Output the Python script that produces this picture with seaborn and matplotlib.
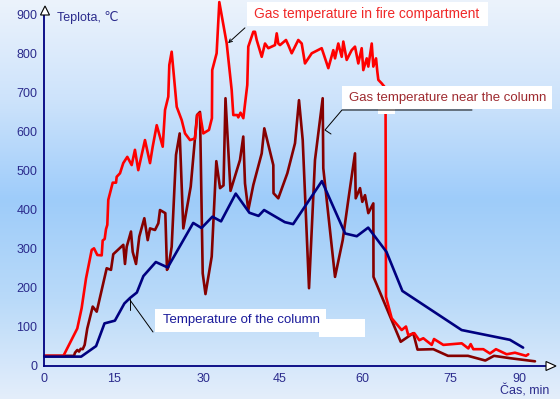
import numpy as np
import pandas as pd
import matplotlib
matplotlib.use('Agg')
import matplotlib.pyplot as plt
from matplotlib.patches import Rectangle, Polygon, FancyArrowPatch
from matplotlib.lines import Line2D
import seaborn as sns

# ---------------- data (time in min, temperature in deg C) ----------------
column_time = [0, 7.9, 11.1, 12.9, 15.1, 16.7, 17.65, 18.8, 19.9, 22.0, 24.0, 28.3, 29.7,
               31.8, 33.5, 36.4, 39.1, 40.9, 42.0, 46.0, 47.5, 52.7, 56.9, 59.0, 61.0,
               64.1, 66.8, 77.4, 88.0, 90.9]
column_temp = [24, 24, 51, 109, 116, 160, 174, 188, 230, 266, 252, 366, 353,
               382, 370, 441, 392, 384, 399, 368, 363, 473, 339, 332, 354,
               292, 192, 92, 67, 47]

fire_time = [0, 4.1, 7.07, 8.0, 8.94, 10.16, 10.65, 11.36, 12.3, 12.51, 12.94, 13.22, 13.5,
             13.71, 14.66, 15.29, 15.4, 15.96, 16.51, 17.19, 17.93, 18.48, 19.04, 20.17,
             21.02, 21.47, 22.15, 23.16, 23.55, 24.1, 24.27, 24.67, 25.52, 26.36, 26.92,
             27.76, 28.6, 28.99, 29.44, 30.0, 31.12, 31.7, 31.76, 32.63, 33.16, 34.62,
             35.6, 35.92, 36.71, 36.91, 37.34, 37.9, 38.68, 38.88, 39.87, 40.2, 40.54,
             41.53, 42.18, 42.83, 44.15, 44.49, 44.8, 45.13, 46.21, 46.63, 47.24, 48.43,
             49.05, 49.64, 50.86, 52.66, 53.86, 54.76, 55.07, 55.66, 56.28, 56.57, 57.18,
             58.08, 58.68, 59.28, 59.89, 60.17, 60.75, 61.02, 61.6, 61.87, 62.33, 62.55,
             62.72, 63.29, 63.94, 64.02, 64.99, 66.68, 67.41, 67.8, 68.82, 69.67, 70.35,
             70.93, 71.78, 72.17, 73.75, 77.42, 78.87, 79.39, 79.96, 82.16, 83.62, 84.94,
             87.29, 89.11, 90.94, 91.53, 92.04]
fire_temp = [26, 26, 96, 148, 224, 297, 301, 284, 283, 321, 325, 350, 361,
             425, 469, 469, 484, 493, 519, 535, 514, 553, 501, 578,
             519, 561, 616, 561, 655, 689, 770, 804, 663, 629, 595,
             578, 582, 642, 646, 595, 604, 634, 757, 800, 931, 825,
             706, 642, 642, 636, 648, 634, 719, 817, 855, 855, 834,
             791, 825, 813, 821, 851, 825, 821, 834, 821, 800, 834,
             825, 774, 800, 813, 762, 808, 787, 825, 791, 830, 783,
             808, 817, 774, 813, 757, 787, 766, 825, 766, 787, 753,
             732, 723, 711, 177, 122, 92, 101, 79, 84, 66, 71,
             64, 54, 69, 54, 58, 45, 56, 43, 43, 32, 43,
             30, 34, 28, 26, 30]

near_time = [0, 6.36, 6.58, 7.07, 7.44, 7.8, 8.23, 8.65, 9.21, 10.37, 11.23, 13.37, 14.29,
             14.78, 16.52, 16.8, 17.09, 17.81, 18.1, 18.66, 19.21, 20.06, 20.63, 21.02,
             21.86, 22.42, 22.7, 23.6, 23.88, 24.14, 24.67, 25.4, 26.02, 26.63, 27.88,
             28.94, 29.44, 29.9, 30.43, 31.66, 32.57, 33.3, 33.99, 34.38, 35.37, 37.24,
             37.89, 38.23, 38.88, 39.87, 41.53, 42.04, 43.82, 43.86, 44.8, 46.45, 47.84,
             48.56, 49.23, 50.37, 51.45, 52.84, 52.95, 55.07, 56.46, 57.47, 58.68, 58.81,
             59.59, 60.0, 60.46, 61.02, 61.87, 61.9, 66.52, 68.65, 69.37, 72.05, 74.54,
             78.8, 82.6, 84.51, 88.02, 93.51]
near_temp = [26, 26, 34, 41, 37, 44, 43, 54, 96, 152, 139, 250, 246,
             286, 310, 261, 305, 344, 292, 261, 331, 378, 322, 352,
             348, 365, 399, 391, 246, 254, 305, 540, 595, 352, 459,
             642, 650, 237, 184, 280, 524, 455, 462, 685, 448, 527,
             587, 467, 399, 463, 544, 608, 514, 442, 429, 493, 570,
             680, 578, 199, 527, 685, 506, 228, 322, 425, 544, 429,
             455, 420, 437, 391, 416, 228, 62, 84, 42, 43, 26,
             26, 14, 26, 20, 12]

x_ticks = [0, 15, 30, 45, 60, 75, 90]
y_ticks = [0, 100, 200, 300, 400, 500, 600, 700, 800, 900]

label_fire = 'Gas temperature in fire compartment'
label_near = 'Gas temperature near the column'
label_column = 'Temperature of the column'
y_label = 'Teplota, \u2103'
x_label = '\u010cas, min'

# ---------------- styling ----------------
sns.set_style('white')
plt.rcParams['font.family'] = ['Liberation Sans', 'DejaVu Sans']

W, H = 560, 399
fig = plt.figure(figsize=(W / 100, H / 100), dpi=100)


def fx(x):
    return x / W


def fy(y):
    return 1 - y / H


# background gradient
bg = fig.add_axes([0, 0, 1, 1], zorder=-10)
stops = np.array([[236, 243, 252], [205, 227, 251], [158, 204, 250],
                  [185, 218, 249], [228, 238, 251]]) / 255.0
pos = np.linspace(0, 1, len(stops))
yy = np.linspace(0, 1, 400)
grad = np.stack([np.interp(yy, pos, stops[:, i]) for i in range(3)], axis=-1)[:, None, :]
bg.imshow(grad, aspect='auto', extent=[0, 1, 0, 1], origin='upper')
bg.set_axis_off()

# main axes
ax = fig.add_axes([fx(44.3), fy(366), fx(545) - fx(44.3), fy(14) - fy(366)])
ax.set_facecolor('none')

near = pd.DataFrame({'t': near_time, 'T': near_temp})
fire = pd.DataFrame({'t': fire_time, 'T': fire_temp})
col = pd.DataFrame({'t': column_time, 'T': column_temp})

sns.lineplot(data=near, x='t', y='T', ax=ax, color='#850000', lw=1.9,
             sort=False, estimator=None, legend=False)
sns.lineplot(data=fire, x='t', y='T', ax=ax, color='#FF0000', lw=1.9,
             sort=False, estimator=None, legend=False)
sns.lineplot(data=col, x='t', y='T', ax=ax, color='#000080', lw=1.9,
             sort=False, estimator=None, legend=False)
for ln in ax.lines:
    ln.set_clip_on(False)

# non-uniform time axis (as in the original category-style axis)
tick_min = [0, 15, 30, 45, 60, 75, 90, 100]
tick_px = [44.3, 114.3, 203.3, 279.3, 362.3, 450.7, 519.0, 564.5]


def fwd(t):
    return np.interp(t, tick_min, tick_px)


def inv(p):
    return np.interp(p, tick_px, tick_min)


ax.set_xscale('function', functions=(fwd, inv))
ax.set_xlim(0, float(inv(545)))
ax.set_ylim(0, 900.5)
ax.set_xticks(x_ticks)
ax.set_xticklabels([str(v) for v in x_ticks])
ax.set_yticks(y_ticks)
ax.set_yticklabels([str(v) for v in y_ticks])
ax.minorticks_off()
ax.set_xlabel('')
ax.set_ylabel('')

for s in ['top', 'right']:
    ax.spines[s].set_visible(False)
for s in ['left', 'bottom']:
    ax.spines[s].set_color('#000080')
    ax.spines[s].set_linewidth(1.3)
ax.tick_params(axis='both', direction='out', length=3, width=1, color='#000080',
               labelcolor='#2B2B8C', labelsize=9, pad=2)

# axis arrowheads
fig.add_artist(Polygon([(fx(40.5), fy(15)), (fx(49.5), fy(15)), (fx(45), fy(6))],
                       closed=True, transform=fig.transFigure, facecolor='white',
                       edgecolor='black', lw=0.8, zorder=6))
fig.add_artist(Polygon([(fx(546), fy(361.5)), (fx(546), fy(370.5)), (fx(556), fy(366))],
                       closed=True, transform=fig.transFigure, facecolor='white',
                       edgecolor='black', lw=0.8, zorder=6))

fig.text(fx(57), fy(17), y_label, color='#2B2B8C', fontsize=9, va='center', ha='left')
fig.text(fx(549), fy(391.5), x_label, color='#2B2B8C', fontsize=9, va='center', ha='right')


def white_box(x0, y0, x1, y1):
    fig.add_artist(Rectangle((fx(x0), fy(y1)), fx(x1) - fx(x0), fy(y0) - fy(y1),
                             transform=fig.transFigure, facecolor='white',
                             edgecolor='none', zorder=5))


def leader(xs, ys):
    fig.add_artist(Line2D([fx(v) for v in xs], [fy(v) for v in ys],
                          transform=fig.transFigure, color='black', lw=0.7, zorder=6))


# label: fire compartment
white_box(247, 2, 488, 26)
fig.text(fx(254), fy(14), label_fire, color='#F02828', fontsize=9.9, va='center',
         ha='left', zorder=7)
fig.add_artist(FancyArrowPatch((fx(247), fy(26)), (fx(226), fy(45)),
                               transform=fig.transFigure, arrowstyle='->',
                               mutation_scale=6, lw=0.7, color='black', zorder=6))

# label: near the column
white_box(342, 86, 552, 109)
white_box(378, 107, 395, 114)
fig.text(fx(349), fy(97.5), label_near, color='#9E2A2F', fontsize=9.5, va='center',
         ha='left', zorder=7)
leader([472, 342, 325, 331], [110, 110, 130, 134])

# label: column
white_box(155, 309, 326, 332)
white_box(319, 319, 365, 337)
fig.text(fx(163), fy(320.5), label_column, color='#1A1A9A', fontsize=9.5, va='center',
         ha='left', zorder=7)
leader([153, 130], [332, 300])
leader([130, 130], [299, 310])

fig.savefig('out.png', dpi=100)
